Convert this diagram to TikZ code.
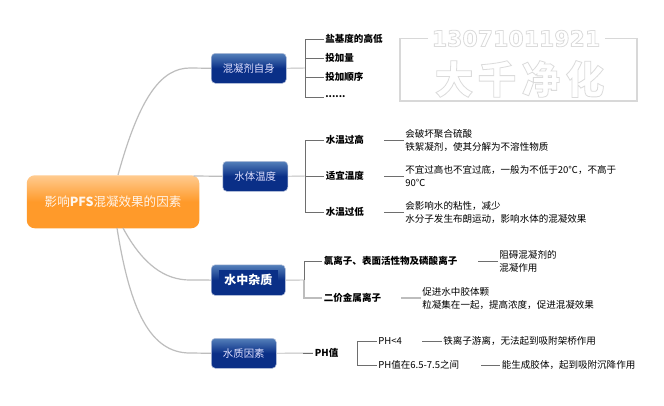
\documentclass[tikz,border=0pt]{standalone}
\usepackage{fontspec}
\setmainfont{Noto Sans CJK SC}
\newfontfamily\wmfont{DejaVu Sans}[BoldFont={DejaVu Sans Bold}]
\definecolor{wmgray}{HTML}{D8D8D8}
\definecolor{navy}{HTML}{0A2F87}
\definecolor{navyt}{HTML}{5580BA}
\definecolor{orangeb}{HTML}{FF9A2A}
\definecolor{oranget}{HTML}{FFCB90}
\definecolor{branch}{HTML}{BDBDBD}
\definecolor{leafline}{HTML}{6E6E6E}
\newcommand{\outl}[1]{\special{pdf:code q 1 Tr 0.6 w 0.86 0.86 0.86 RG}#1\special{pdf:code Q 0 Tr}}
\tikzset{
  x=0.75pt,y=-0.75pt,
  bluebox/.style={draw=navy!30!white,line width=.4pt,rounded corners=3pt,top color=navyt,bottom color=navy,middle color=navy,text=white!88!blue,font=\fontsize{7.8}{9}\selectfont,inner sep=0pt,anchor=north west},
  rootbox/.style={rounded corners=6pt,top color=oranget,bottom color=orangeb,middle color=orangeb,text=white!92!orange,font=\fontsize{9.4}{10}\selectfont,inner sep=0pt,anchor=north west},
  leafb/.style={anchor=west,inner sep=1.2pt,font=\fontsize{7.15}{9.75}\selectfont\bfseries,text=black},
  leaft/.style={anchor=west,inner sep=1.2pt,align=left,font=\fontsize{7.15}{9.75}\selectfont,text=black},
  bline/.style={draw=branch,line width=.9pt},
  brk/.style={draw=leafline,line width=.6pt},
  dashl/.style={draw=leafline,line width=.6pt},
  wmn/.style={inner sep=0pt,anchor=center},
}
\begin{document}
\begin{tikzpicture}
\useasboundingbox[fill=white] (0,0) rectangle (664,405);
% watermark
\coordinate (wa) at (428,38.5); \coordinate (wb) at (400,38.5); \coordinate (wc) at (400,101);
\coordinate (wd) at (637,101); \coordinate (we) at (637,38.5); \coordinate (wf) at (605,38.5);
\draw[draw=wmgray,line width=1pt] (wa) -- (wb) -- (wc) -- (wd) -- (we) -- (wf);
\node[wmn,font=\wmfont\bfseries\fontsize{16.5}{18}\selectfont] (wnum) at (516,38.5) {\outl{13071011921}};
\node[wmn,font=\bfseries\fontsize{29}{30}\selectfont] (w1) at (454,79) {\outl{大}};
\node[wmn,font=\bfseries\fontsize{29}{30}\selectfont] (w2) at (497,79) {\outl{千}};
\node[wmn,font=\bfseries\fontsize{29}{30}\selectfont] (w3) at (541,79) {\outl{净}};
\node[wmn,font=\bfseries\fontsize{29}{30}\selectfont] (w4) at (585,79) {\outl{化}};
% main boxes
\node[rootbox,minimum width=129.4pt,minimum height=39.75pt] (root) at (26.5,175) {影响\textbf{PFS}混凝效果的因素};
\node[bluebox,minimum width=56.25pt,minimum height=22.5pt] (b1) at (211,53) {混凝剂自身};
\node[bluebox,minimum width=48.75pt,minimum height=22.5pt] (b2) at (222.5,161) {水体温度};
\node[bluebox,minimum width=55.5pt,minimum height=23pt] (b3) at (211,264.5) {};
\node[anchor=center,fill=navy,inner sep=0pt,minimum width=44pt,minimum height=15pt,text=white,font=\fontsize{9}{10}\selectfont\bfseries] (b3t) at (b3.center) {水中杂质};
\node[bluebox,minimum width=48.75pt,minimum height=22.5pt] (b4) at (211,338) {水质因素};
% root connectors
\coordinate (r1) at (118,175); \coordinate (r3) at (123,228); \coordinate (r4) at (117,228);
\draw[bline] (r1) .. controls (140,95) and (162,68) .. (190,68) -- (b1.west);
\draw[bline] (root.north east) ++(-6,1) -- (b2.west);
\draw[bline] (r3) .. controls (143,265) and (165,280) .. (190,280) -- (b3.west);
\draw[bline] (r4) .. controls (130,310) and (150,353) .. (190,353) -- (b4.west);
% group 1
\coordinate (j1) at (305,68);
\node[leafb] (a1) at (323.5,39) {盐基度的高低};
\node[leafb] (a2) at (323.5,58) {投加量};
\node[leafb] (a3) at (323.5,77) {投加顺序};
\node[leafb] (a4) at (323.5,97) {......};
\draw[bline,line width=.7pt] (b1.east) -- (j1);
\foreach \n in {a1,a2,a3,a4} \draw[brk] (\n.west) -| (j1);
% group 2
\coordinate (j2) at (305.5,176);
\node[leafb] (c1) at (324,140) {水温过高};
\node[leafb] (c2) at (324,176) {适宜温度};
\node[leafb] (c3) at (324,212) {水温过低};
\draw[bline,line width=.7pt] (b2.east) -- (j2);
\foreach \n in {c1,c2,c3} \draw[brk] (\n.west) -| (j2);
\node[leaft] (d1) at (403.5,140) {会破坏聚合硫酸\\铁絮凝剂，使其分解为不溶性物质};
\node[leaft] (d2) at (403.5,176) {不宜过高也不宜过底，一般为不低于20℃，不高于\\90℃};
\node[leaft] (d3) at (403.5,212) {会影响水的粘性，减少\\水分子发生布朗运动，影响水体的混凝效果};
\coordinate (e1) at (384,140); \coordinate (e2) at (384,176); \coordinate (e3) at (384,212);
\draw[dashl] (e1) -- (d1.west); \draw[dashl] (e2) -- (d2.west); \draw[dashl] (e3) -- (d3.west);
% group 3
\coordinate (j3) at (304,280);
\node[leafb] (f1) at (322,261) {氯离子、表面活性物及磷酸离子};
\node[leafb] (f2) at (322,298) {二价金属离子};
\draw[bline,line width=.7pt] (b3.east) -- (j3);
\draw[brk] (f1.west) -| (j3);
\draw[bline,line width=.8pt] (f2.west) -| (j3);
\node[leaft] (g1) at (497.5,261) {阻碍混凝剂的\\混凝作用};
\node[leaft] (g2) at (420.5,298) {促进水中胶体颗\\粒凝集在一起，提高浓度，促进混凝效果};
\coordinate (h1) at (478,261); \coordinate (h2) at (401,298);
\draw[dashl] (h1) -- (g1.west);
\draw[bline,line width=.8pt] (h2) -- (g2.west);
% group 4
\node[leafb] (p) at (313,353) {PH值};
\draw[bline,line width=.7pt] (b4.east) -- (p.west);
\coordinate (p0) at (303,353);
\draw[brk] (p0) -- (p.west);
\coordinate (j4) at (357,353);
\node[leafb,font=\fontsize{7.15}{9.75}\selectfont] (q1) at (376.5,341) {PH<4};
\node[leafb,font=\fontsize{7.15}{9.75}\selectfont] (q2) at (376.5,365) {PH值在6.5-7.5之间};
\draw[brk] (q1.west) -| (j4);
\draw[brk] (q2.west) -| (j4);
\node[leaft] (s1) at (441.5,341) {铁离子游离，无法起到吸附架桥作用};
\node[leaft] (s2) at (500,365) {能生成胶体，起到吸附沉降作用};
\coordinate (t1) at (422,341); \coordinate (t2) at (481,365);
\draw[dashl] (t1) -- (s1.west); \draw[dashl] (t2) -- (s2.west);
\end{tikzpicture}
\end{document}
